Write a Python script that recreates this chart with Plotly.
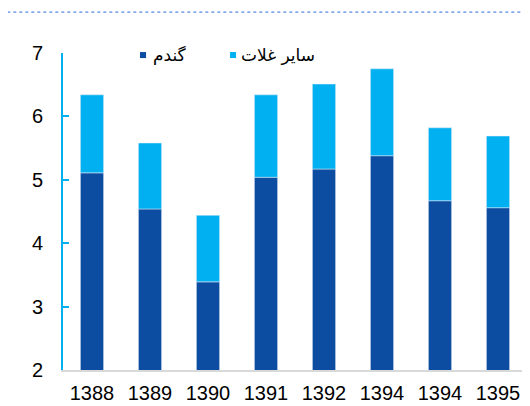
import plotly.graph_objects as go

# grain production (million tonnes) by year
years = ["1388", "1389", "1390", "1391", "1392", "1394", "1394", "1395"]
wheat = [5.11, 4.54, 3.39, 5.04, 5.17, 5.38, 4.67, 4.56]
other = [1.23, 1.04, 1.05, 1.30, 1.34, 1.37, 1.15, 1.13]

wheat_name = "گندم"
other_name = "سایر غلات"

dark = "#0C4DA2"
light = "#00B0F0"
pos = list(range(len(years)))

fig = go.Figure()
fig.add_bar(x=pos, y=wheat, marker_color=dark, width=0.4, name=wheat_name, showlegend=False)
fig.add_bar(x=pos, y=other, base=wheat, marker_color=light, width=0.4,
            name=other_name, showlegend=False)

# page has an 8px body margin, so the figure is 8px smaller than the window
fig.update_layout(
    width=522, height=398,
    margin=dict(l=55, r=3, t=45, b=36),
    paper_bgcolor="white", plot_bgcolor="white",
    barmode="overlay",
    font=dict(family="Liberation Sans, DejaVu Sans, Arial", size=20, color="#000000"),
    showlegend=False,
    shapes=[
        dict(type="line", xref="paper", yref="paper", x0=-0.12, x1=1.01,
             y0=1.129, y1=1.129, line=dict(color="#2E6BD6", width=1, dash="dot")),
        # legend swatches
        dict(type="rect", xref="paper", yref="paper", x0=0.166, x1=0.179,
             y0=0.984, y1=1.003, fillcolor=dark, line_width=0),
        dict(type="rect", xref="paper", yref="paper", x0=0.360, x1=0.373,
             y0=0.984, y1=1.003, fillcolor=light, line_width=0),
    ],
    annotations=[
        dict(text=wheat_name, xref="paper", yref="paper", x=0.19, y=0.994,
             xanchor="left", yanchor="middle", showarrow=False,
             font=dict(size=17, family="DejaVu Sans")),
        dict(text=other_name, xref="paper", yref="paper", x=0.379, y=0.994,
             xanchor="left", yanchor="middle", showarrow=False,
             font=dict(size=17, family="DejaVu Sans")),
    ],
)
fig.update_xaxes(range=[-0.5, 7.5], tickvals=pos, ticktext=years, showgrid=False,
                 showline=True, linecolor="#D9D9D9", linewidth=2, ticks="",
                 zeroline=False, ticklabelstandoff=4, automargin=False)
fig.update_yaxes(range=[2, 7], dtick=1, showgrid=False, showline=True,
                 linecolor=light, linewidth=2, ticks="inside", ticklen=6,
                 tickcolor=light, tickwidth=2, zeroline=False, ticklabelstandoff=14,
                 automargin=False)

fig.write_html("out.html")
